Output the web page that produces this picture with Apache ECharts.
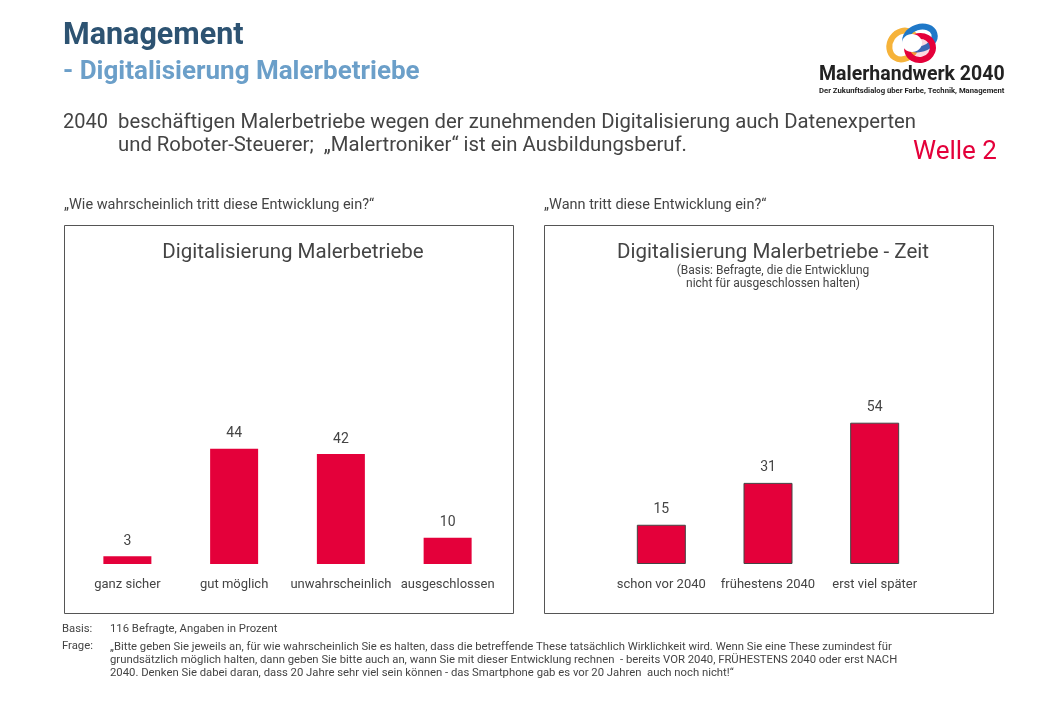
<!DOCTYPE html>
<html><head><meta charset="utf-8">
<script src="https://cdn.jsdelivr.net/npm/echarts@6/dist/echarts.min.js"></script>
<style>html,body{margin:0;padding:0;background:#fff}#c{width:1040px;height:720px}</style>
</head><body><div id="c"></div>
<script>
const leftCategories = ['ganz sicher', 'gut möglich', 'unwahrscheinlich', 'ausgeschlossen'];
const leftValues = [3, 44, 42, 10];
const rightCategories = ['schon vor 2040', 'frühestens 2040', 'erst viel später'];
const rightValues = [15, 31, 54];

const F = 'Roboto, "Noto Sans", sans-serif';
const TXT = '#444';
const RED = '#e4003a';

const chart = echarts.init(document.getElementById('c'));
function t(x, y, text, style) {
  return {type: 'text', left: x, top: y, style: Object.assign({text: text, font: '13px ' + F, fill: TXT}, style || {})};
}
chart.setOption({
  animation: false,
  title: [
    {text: 'Digitalisierung Malerbetriebe', left: 288, top: 237, textAlign: 'center',
     textStyle: {fontFamily: F, fontSize: 20.5, fontWeight: 'normal', color: TXT}},
    {text: 'Digitalisierung Malerbetriebe - Zeit', left: 768, top: 237, textAlign: 'center',
     subtext: '(Basis: Befragte, die die Entwicklung\nnicht für ausgeschlossen halten)', itemGap: 1,
     textStyle: {fontFamily: F, fontSize: 20.5, fontWeight: 'normal', color: TXT},
     subtextStyle: {fontFamily: F, fontSize: 12, color: TXT, lineHeight: 13, align: 'center'}}
  ],
  grid: [
    {left: 74, width: 427, top: 407, height: 157},
    {left: 608, width: 320, top: 407, height: 157}
  ],
  xAxis: [
    {type: 'category', gridIndex: 0, data: leftCategories, axisLine: {show: false}, axisTick: {show: false},
     axisLabel: {interval: 0, fontFamily: F, fontSize: 13, color: TXT, margin: 14}},
    {type: 'category', gridIndex: 1, data: rightCategories, axisLine: {show: false}, axisTick: {show: false},
     axisLabel: {interval: 0, fontFamily: F, fontSize: 13, color: TXT, margin: 14}}
  ],
  yAxis: [
    {type: 'value', gridIndex: 0, min: 0, max: 60, show: false},
    {type: 'value', gridIndex: 1, min: 0, max: 60, show: false}
  ],
  series: [
    {type: 'bar', xAxisIndex: 0, yAxisIndex: 0, data: leftValues, barWidth: 48,
     itemStyle: {color: RED},
     label: {show: true, position: 'top', distance: 8, fontFamily: F, fontSize: 14, color: TXT}},
    {type: 'bar', xAxisIndex: 1, yAxisIndex: 1, data: rightValues, barWidth: 49,
     itemStyle: {color: RED, borderColor: '#444', borderWidth: 1},
     label: {show: true, position: 'top', distance: 8, fontFamily: F, fontSize: 14, color: TXT}}
  ],
  graphic: [
    {type: 'rect', shape: {x: 64.5, y: 225.5, width: 449, height: 388}, style: {fill: 'none', stroke: '#555', lineWidth: 1}, z: -1},
    {type: 'rect', shape: {x: 544.5, y: 225.5, width: 449, height: 388}, style: {fill: 'none', stroke: '#555', lineWidth: 1}, z: -1},
    t(63, 21, 'Management', {font: 'bold 30.5px ' + F, fill: '#2d5372'}),
    t(63, 59, '- Digitalisierung Malerbetriebe', {font: 'bold 26px ' + F, fill: '#6b9fc9'}),
    t(63, 113, '2040', {font: '20px ' + F}),
    t(118, 113, 'beschäftigen Malerbetriebe wegen der zunehmenden Digitalisierung auch Datenexperten', {font: '20.3px ' + F}),
    t(118, 136, 'und Roboter-Steuerer;  „Malertroniker“ ist ein Ausbildungsberuf.', {font: '20.3px ' + F}),
    t(913, 139, 'Welle 2', {font: '26px ' + F, fill: RED}),
    t(64, 198, '„Wie wahrscheinlich tritt diese Entwicklung ein?“', {font: '14.5px ' + F}),
    t(544, 198, '„Wann tritt diese Entwicklung ein?“', {font: '14.5px ' + F}),
    t(62, 624, 'Basis:', {font: '11.3px ' + F}),
    t(110, 624, '116 Befragte, Angaben in Prozent', {font: '11.3px ' + F}),
    t(62, 641, 'Frage:', {font: '11.3px ' + F}),
    t(110, 641, '„Bitte geben Sie jeweils an, für wie wahrscheinlich Sie es halten, dass die betreffende These tatsächlich Wirklichkeit wird. Wenn Sie eine These zumindest für\ngrundsätzlich möglich halten, dann geben Sie bitte auch an, wann Sie mit dieser Entwicklung rechnen  - bereits VOR 2040, FRÜHESTENS 2040 oder erst NACH\n2040. Denken Sie dabei daran, dass 20 Jahre sehr viel sein können - das Smartphone gab es vor 20 Jahren  auch noch nicht!“', {font: '11.3px ' + F, lineHeight: 13}),
    {type: 'ellipse', shape: {cx: 903, cy: 45, rx: 13, ry: 15}, rotation: -0.6, originX: 903, originY: 45, style: {fill: 'none', stroke: '#f6b33a', lineWidth: 6}},
    {type: 'ellipse', shape: {cx: 920, cy: 38, rx: 15, ry: 11}, rotation: 0.3, originX: 920, originY: 38, style: {fill: 'none', stroke: '#1f78c8', lineWidth: 6}},
    {type: 'ellipse', shape: {cx: 920, cy: 48, rx: 13, ry: 12}, rotation: 0.2, originX: 920, originY: 48, style: {fill: 'rgba(228,0,58,0.15)', stroke: '#e4003a', lineWidth: 6}},
    {type: 'ellipse', shape: {cx: 912, cy: 43, rx: 10, ry: 9}, style: {fill: '#fff', stroke: 'none'}},
    t(819, 65, 'Malerhandwerk 2040', {font: 'bold 19.5px ' + F, fill: '#222'}),
    t(819, 87, 'Der Zukunftsdialog über Farbe, Technik, Management', {font: 'bold 7.7px ' + F, fill: '#222'})
  ]
});
</script></body></html>
